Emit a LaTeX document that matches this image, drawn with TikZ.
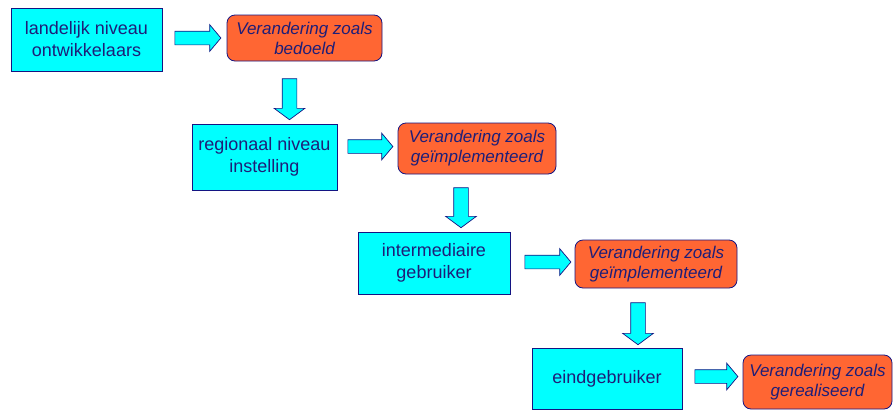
\documentclass[tikz,border=0pt]{standalone}
\usepackage{fontspec}
\setmainfont{Liberation Sans}
\usetikzlibrary{shapes.arrows}

\definecolor{boxcyan}{RGB}{0,255,255}
\definecolor{boxnavy}{RGB}{20,20,130}
\definecolor{textnavy}{RGB}{30,30,120}
\definecolor{changeorange}{RGB}{255,102,51}

\tikzset{
	level/.style={draw=boxnavy, line width=0.8pt, fill=boxcyan, text=textnavy, align=center,
		font=\fontsize{18pt}{22pt}\selectfont, inner sep=0pt},
	change/.style={draw=boxnavy, line width=0.8pt, fill=changeorange, rounded corners=8pt, text=textnavy,
		align=center, font=\fontsize{17pt}{20pt}\selectfont\itshape, inner sep=0pt},
	blockright/.style={draw=boxnavy, line width=0.7pt, fill=boxcyan, shape=single arrow, inner xsep=0pt,
		inner ysep=6.5pt, single arrow head extend=6.5pt, single arrow tip angle=100, single arrow head indent=0pt},
	blockdown/.style={blockright, rotate=-90, inner ysep=7pt, single arrow head extend=8pt, single arrow tip angle=107}
}

\begin{document}
\begin{tikzpicture}[x=1pt, y=-1pt]
	\useasboundingbox (0,0) rectangle (896,410);

	\node[level, minimum width=151pt, minimum height=63pt] (landelijk) at (86.5,39.5) {landelijk niveau\\ontwikkelaars};
	\node[change, minimum width=155pt, minimum height=46pt] (bedoeld) at (304.5,38) {Verandering zoals\\bedoeld};

	\node[level, minimum width=145pt, minimum height=66pt] (regionaal) at (264.5,157) {regionaal niveau\\instelling};
	\node[change, minimum width=158pt, minimum height=51pt] (geimpl1) at (477,148.5) {Verandering zoals\\geïmplementeerd};

	\node[level, minimum width=152pt, minimum height=62pt] (intermediair) at (434,263) {intermediaire\\gebruiker};
	\node[change, minimum width=162pt, minimum height=48pt] (geimpl2) at (656,264) {Verandering zoals\\geïmplementeerd};

	\node[level, minimum width=150pt, minimum height=61pt] (eind) at (607,378.5) {eindgebruiker};
	\node[change, minimum width=149pt, minimum height=54pt] (gerealiseerd) at (817.5,382) {Verandering zoals\\gerealiseerd};

	% block arrows
	\node[blockright, minimum height=46pt] (pijl1) at (195,38) {};
	\node[blockdown, minimum height=41pt] (pijl2) at (289.5,96.5) {};
	\node[blockright, minimum height=45pt] (pijl3) at (367.5,146.5) {};
	\node[blockdown, minimum height=40pt] (pijl4) at (461,205) {};
	\node[blockright, minimum height=46pt] (pijl5) at (545,262) {};
	\node[blockdown, minimum height=42pt] (pijl6) at (638,321) {};
	\node[blockright, minimum height=43pt] (pijl7) at (713.5,376.5) {};
\end{tikzpicture}
\end{document}
